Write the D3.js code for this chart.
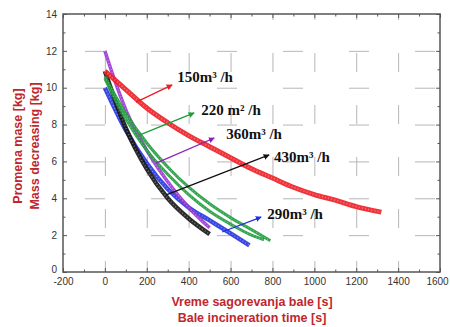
<!DOCTYPE html>
<html>
<head>
<meta charset="utf-8">
<script src="https://cdn.jsdelivr.net/npm/d3@7"></script>
<style>
  body { margin: 0; background: #fff; }
  svg { display: block; }
</style>
</head>
<body>
<script>
// values (time [s], mass [kg])
const redT    = [0, 100, 200, 300, 400, 500, 600, 700, 800, 900, 1000, 1100, 1200, 1320];
const redM    = [10.9, 9.9, 8.9, 8.1, 7.4, 6.8, 6.2, 5.6, 5.1, 4.6, 4.2, 3.9, 3.55, 3.25];
const greenT  = [0, 100, 200, 300, 400, 500, 600, 700, 790];
const greenM  = [10.6, 8.6, 7.0, 5.7, 4.6, 3.7, 2.95, 2.3, 1.7];
const green2T = [0, 100, 200, 300, 400, 500, 600, 700, 760];
const green2M = [10.5, 8.3, 6.6, 5.3, 4.2, 3.3, 2.6, 2.0, 1.75];
const purpleT = [0, 50, 100, 200, 300, 400, 500];
const purpleM = [12.0, 10.3, 8.8, 6.6, 4.9, 3.5, 2.4];
const blackT  = [0, 100, 200, 300, 400, 500];
const blackM  = [10.9, 7.8, 5.6, 4.0, 2.9, 2.05];
const blueT   = [0, 100, 200, 300, 400, 500, 600, 690];
const blueM   = [10.0, 7.7, 5.9, 4.5, 3.5, 2.8, 2.1, 1.45];

// annotations: arrow from curve point to label, label text
const labels = ["150m³ /h", "220 m² /h", "360m³ /h", "430m³ /h", "290m³ /h"];
const arrowFrom = [[149, 9.22], [164, 7.43], [245, 5.91], [293, 4.18], [560, 2.17]];
const arrowTo   = [[321, 10.15], [426, 8.63], [522, 7.27], [784, 6.35], [746, 2.98]];
const labelAt   = [[345, 10.58], [460, 8.79], [579, 7.49], [808, 6.24], [775, 3.15]];
const annColors = ["#ee1c24", "#1e9b3c", "#8a1fb8", "#111111", "#1f2fe0"];

const xTicks = d3.range(-200, 1601, 200);
const yTicks = d3.range(0, 15, 2);

const W = 450, H = 327;
const mLeft = 63, mRight = 440, mTop = 14, mBottom = 272;

const svg = d3.select('body').append('svg')
  .attr('width', W).attr('height', H)
  .attr('viewBox', `0 0 ${W} ${H}`);

const x = d3.scaleLinear().domain([-200, 1600]).range([mLeft, mRight]);
const y = d3.scaleLinear().domain([0, 14]).range([mBottom, mTop]);

// grid via axes with full-length ticks, then broken into dashes
svg.append('g').attr('class', 'gridx')
  .attr('transform', `translate(0,${mBottom})`)
  .call(d3.axisBottom(x).tickValues(xTicks.slice(1, -1)).tickSize(-(mBottom - mTop)).tickFormat(''))
  .call(g => g.select('.domain').remove())
  .call(g => g.selectAll('line')
    .attr('stroke', '#b6b6b6').attr('stroke-width', 1)
    .attr('stroke-dasharray', '19,33').attr('stroke-dashoffset', 8));
svg.append('g').attr('class', 'gridy')
  .attr('transform', `translate(${mLeft},0)`)
  .call(d3.axisLeft(y).tickValues(yTicks.slice(1, -1)).tickSize(-(mRight - mLeft)).tickFormat(''))
  .call(g => g.select('.domain').remove())
  .call(g => g.selectAll('line')
    .attr('stroke', '#b6b6b6').attr('stroke-width', 1)
    .attr('stroke-dasharray', '20,46').attr('stroke-dashoffset', 44));

// curves: thick speckled bands
const line = d3.line().x(d => x(d[0])).y(d => y(d[1])).curve(d3.curveMonotoneX);
function band(ts, ms, colour, width) {
  const pts = ts.map((t, i) => [t, ms[i]]);
  svg.append('path').attr('d', line(pts))
    .attr('fill', 'none').attr('stroke', colour)
    .attr('stroke-width', width).attr('stroke-opacity', 0.9);
  svg.append('path').attr('d', line(pts))
    .attr('fill', 'none').attr('stroke', '#fff')
    .attr('stroke-width', width * 0.35).attr('stroke-opacity', 0.35)
    .attr('stroke-dasharray', '1,2.2');
}
band(blueT, blueM, '#2233dd', 4.5);
band(blackT, blackM, '#141414', 4.5);
band(purpleT, purpleM, '#9a35d0', 3.5);
band(green2T, green2M, '#1e9b3c', 3);
band(greenT, greenM, '#1e9b3c', 3);
band(redT, redM, '#ee1c24', 5);

// arrows + labels
const defs = svg.append('defs');
annColors.forEach((c, i) => {
  defs.append('marker').attr('id', 'ah' + i)
    .attr('viewBox', '0 0 10 10').attr('refX', 9).attr('refY', 5)
    .attr('markerWidth', 6).attr('markerHeight', 6)
    .attr('markerUnits', 'userSpaceOnUse')
    .attr('orient', 'auto')
    .append('path').attr('d', 'M0,0L10,5L0,10Z').attr('fill', c);
});
labels.forEach((txt, i) => {
  svg.append('line')
    .attr('x1', x(arrowFrom[i][0])).attr('y1', y(arrowFrom[i][1]))
    .attr('x2', x(arrowTo[i][0])).attr('y2', y(arrowTo[i][1]))
    .attr('stroke', annColors[i]).attr('stroke-width', 1.3)
    .attr('marker-end', `url(#ah${i})`);
  svg.append('text')
    .attr('x', x(labelAt[i][0])).attr('y', y(labelAt[i][1]))
    .attr('dy', '0.35em')
    .attr('font-family', '"Liberation Serif", "Times New Roman", serif')
    .attr('font-weight', 'bold').attr('font-size', 15)
    .attr('fill', '#111')
    .text(txt);
});

// frame + axes with inward ticks
svg.append('rect').attr('x', mLeft).attr('y', mTop)
  .attr('width', mRight - mLeft).attr('height', mBottom - mTop)
  .attr('fill', 'none').attr('stroke', '#555').attr('stroke-width', 1.5);

const fmt = d => String(d);
const axisStyle = g => {
  g.select('.domain').remove();
  g.selectAll('line').attr('stroke', '#555');
  g.selectAll('text').attr('font-family', '"Liberation Sans", Arial, sans-serif')
    .attr('font-size', 10).attr('fill', '#333');
};
const xMinor = d3.range(-100, 1600, 200);
const yMinor = d3.range(1, 14, 2);

const xAx = svg.append('g').attr('transform', `translate(0,${mBottom})`)
  .call(d3.axisBottom(x).tickValues(xTicks).tickSize(-4).tickPadding(6).tickFormat(fmt)).call(axisStyle);
// last label sits on the window edge; keep it inside
xAx.selectAll('.tick').filter(d => d === 1600).select('text').attr('dx', -3);
svg.append('g').attr('transform', `translate(0,${mBottom})`)
  .call(d3.axisBottom(x).tickValues(xMinor).tickSize(-2.5).tickFormat('')).call(axisStyle);
svg.append('g').attr('transform', `translate(0,${mTop})`)
  .call(d3.axisTop(x).tickValues(xTicks).tickSize(-4).tickFormat('')).call(axisStyle);
svg.append('g').attr('transform', `translate(0,${mTop})`)
  .call(d3.axisTop(x).tickValues(xMinor).tickSize(-2.5).tickFormat('')).call(axisStyle);
const yAx = svg.append('g').attr('transform', `translate(${mLeft},0)`)
  .call(d3.axisLeft(y).tickValues(yTicks).tickSize(-4).tickPadding(6).tickFormat(fmt)).call(axisStyle);
// nudge the "0" label up, as in the original, so it clears "-200"
yAx.selectAll('.tick').filter(d => d === 0).select('text').attr('dy', '0.05em');
svg.append('g').attr('transform', `translate(${mLeft},0)`)
  .call(d3.axisLeft(y).tickValues(yMinor).tickSize(-2.5).tickFormat('')).call(axisStyle);
svg.append('g').attr('transform', `translate(${mRight},0)`)
  .call(d3.axisRight(y).tickValues(yTicks).tickSize(-4).tickFormat('')).call(axisStyle);
svg.append('g').attr('transform', `translate(${mRight},0)`)
  .call(d3.axisRight(y).tickValues(yMinor).tickSize(-2.5).tickFormat('')).call(axisStyle);

// axis titles
const titleColour = '#c0272d';
const xt = svg.append('text').attr('text-anchor', 'middle')
  .attr('font-family', '"Liberation Sans", Arial, sans-serif')
  .attr('font-weight', 'bold').attr('font-size', 12.5).attr('fill', titleColour);
xt.append('tspan').attr('x', 252).attr('y', 306).text('Vreme sagorevanja bale [s]');
xt.append('tspan').attr('x', 252).attr('y', 322).text('Bale incineration time [s]');

const yt = svg.append('text').attr('text-anchor', 'middle')
  .attr('transform', 'translate(0,146) rotate(-90)')
  .attr('font-family', '"Liberation Sans", Arial, sans-serif')
  .attr('font-weight', 'bold').attr('font-size', 12.5).attr('fill', titleColour);
yt.append('tspan').attr('x', 0).attr('y', 22).text('Promena mase [kg]');
yt.append('tspan').attr('x', 0).attr('y', 39).text('Mass decreasing [kg]');
</script>
</body>
</html>
